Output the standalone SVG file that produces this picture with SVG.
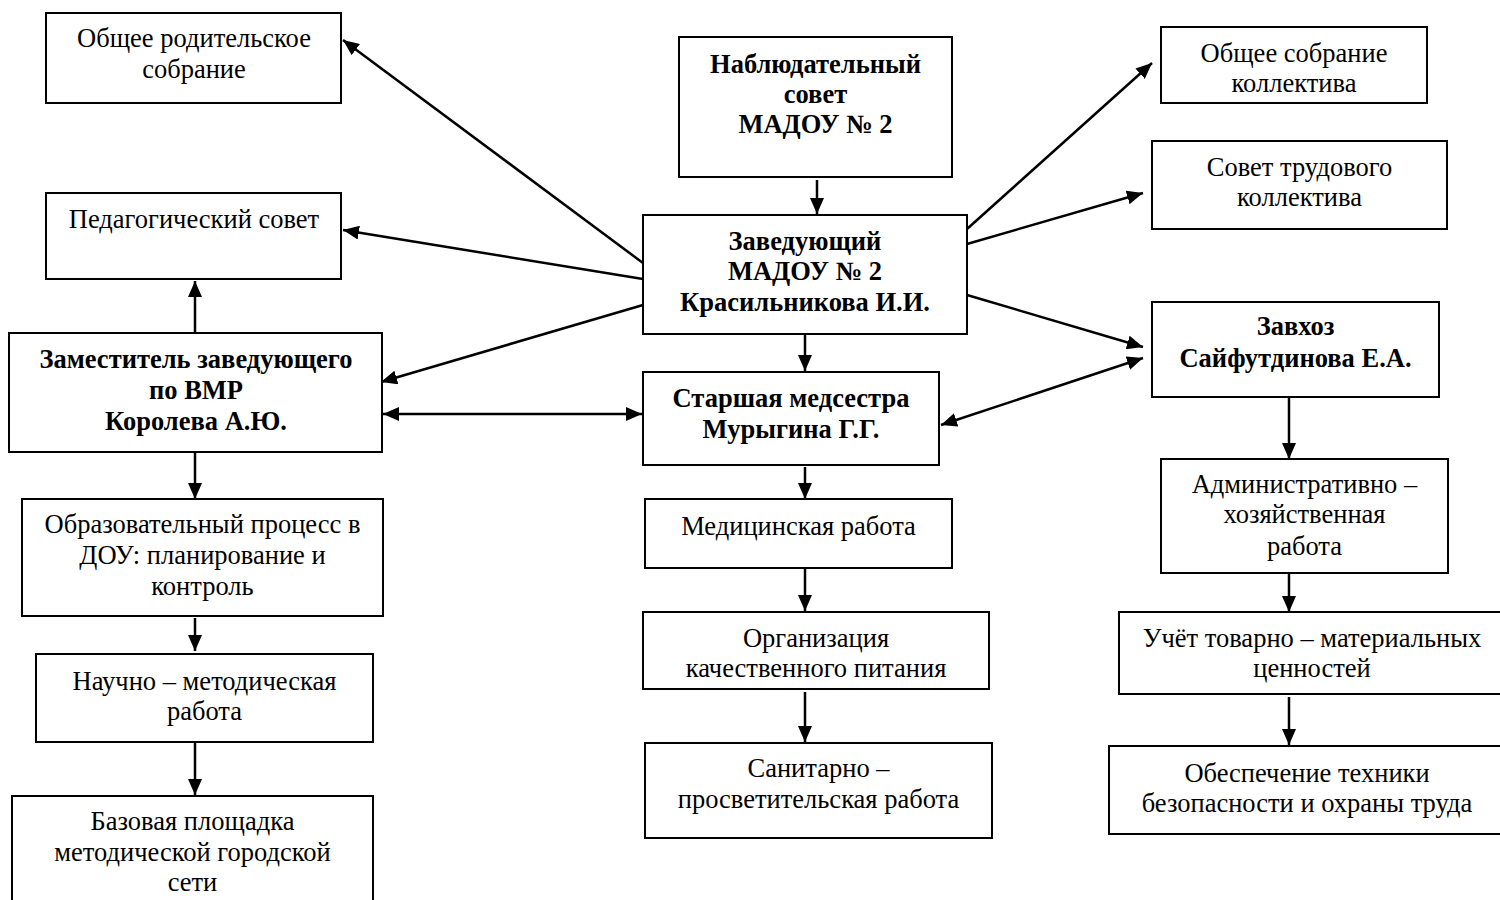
<svg xmlns="http://www.w3.org/2000/svg" width="1500" height="900" viewBox="0 0 1500 900">
<style>
  .box { fill: #ffffff; stroke: #000000; stroke-width: 2; }
  .t { font-family: "Liberation Serif", "Times New Roman", serif; font-size: 26.5px; fill: #000000; text-anchor: middle; }
  .b { font-weight: bold; }
  .c { stroke: #000000; stroke-width: 2.5; fill: none; marker-end: url(#ah); }
  .d { marker-start: url(#ah); }
</style>
<defs>
  <marker id="ah" viewBox="0 0 16 14" refX="16" refY="7" markerWidth="16" markerHeight="14" markerUnits="userSpaceOnUse" orient="auto-start-reverse">
    <path d="M0,0 L16,7 L0,14 z" fill="#000000"/>
  </marker>
</defs>
<rect x="0" y="0" width="1500" height="900" fill="#ffffff"/>

<g id="connectors">
  <line class="c" x1="643" y1="263" x2="343" y2="40"/>
  <line class="c" x1="643" y1="279" x2="343" y2="230"/>
  <line class="c" x1="643" y1="305" x2="381" y2="382"/>
  <line class="c d" x1="383" y1="414" x2="642" y2="414"/>
  <line class="c" x1="195" y1="333" x2="195" y2="281"/>
  <line class="c" x1="817" y1="180" x2="817" y2="214"/>
  <line class="c" x1="805" y1="334" x2="805" y2="371"/>
  <line class="c" x1="967" y1="229" x2="1152" y2="63"/>
  <line class="c" x1="967" y1="244" x2="1143" y2="193"/>
  <line class="c" x1="967" y1="295" x2="1143" y2="347"/>
  <line class="c d" x1="941" y1="425" x2="1143" y2="358"/>
  <line class="c" x1="1289" y1="397" x2="1289" y2="459"/>
  <line class="c" x1="1289" y1="573" x2="1289" y2="612"/>
  <line class="c" x1="1289" y1="697" x2="1289" y2="745"/>
  <line class="c" x1="195" y1="452" x2="195" y2="499"/>
  <line class="c" x1="195" y1="618" x2="195" y2="651"/>
  <line class="c" x1="195" y1="742" x2="195" y2="795"/>
  <line class="c" x1="805" y1="467" x2="805" y2="499"/>
  <line class="c" x1="805" y1="566" x2="805" y2="611"/>
  <line class="c" x1="805" y1="692" x2="805" y2="742"/>
</g>

<g id="n1">
  <rect class="box" x="46" y="13" width="295" height="90"/>
  <text class="t" x="194" y="47">Общее родительское</text>
  <text class="t" x="194" y="78">собрание</text>
</g>
<g id="n2">
  <rect class="box" x="46" y="193" width="295" height="86"/>
  <text class="t" x="194" y="228">Педагогический совет</text>
</g>
<g id="n3">
  <rect class="box" x="9" y="333" width="373" height="119"/>
  <text class="t b" x="196" y="368">Заместитель заведующего</text>
  <text class="t b" x="196" y="399">по ВМР</text>
  <text class="t b" x="196" y="430">Королева А.Ю.</text>
</g>
<g id="n4">
  <rect class="box" x="22" y="499" width="361" height="117"/>
  <text class="t" x="202.5" y="533">Образовательный процесс в</text>
  <text class="t" x="202.5" y="564">ДОУ: планирование и</text>
  <text class="t" x="202.5" y="595">контроль</text>
</g>
<g id="n5">
  <rect class="box" x="36" y="654" width="337" height="88"/>
  <text class="t" x="204.5" y="690">Научно – методическая</text>
  <text class="t" x="204.5" y="720">работа</text>
</g>
<g id="n6">
  <rect class="box" x="12" y="796" width="361" height="110"/>
  <text class="t" x="192.5" y="830">Базовая площадка</text>
  <text class="t" x="192.5" y="861">методической городской</text>
  <text class="t" x="192.5" y="891">сети</text>
</g>
<g id="n7">
  <rect class="box" x="679" y="37" width="273" height="140"/>
  <text class="t b" x="815.5" y="73">Наблюдательный</text>
  <text class="t b" x="815.5" y="103">совет</text>
  <text class="t b" x="815.5" y="133">МАДОУ № 2</text>
</g>
<g id="n8">
  <rect class="box" x="643" y="215" width="324" height="119"/>
  <text class="t b" x="805" y="250">Заведующий</text>
  <text class="t b" x="805" y="280">МАДОУ № 2</text>
  <text class="t b" x="805" y="311">Красильникова И.И.</text>
</g>
<g id="n9">
  <rect class="box" x="643" y="372" width="296" height="93"/>
  <text class="t b" x="791" y="407">Старшая медсестра</text>
  <text class="t b" x="791" y="438">Мурыгина Г.Г.</text>
</g>
<g id="n10">
  <rect class="box" x="645" y="499" width="307" height="69"/>
  <text class="t" x="798.5" y="535">Медицинская работа</text>
</g>
<g id="n11">
  <rect class="box" x="643" y="612" width="346" height="77"/>
  <text class="t" x="816" y="647">Организация</text>
  <text class="t" x="816" y="677">качественного питания</text>
</g>
<g id="n12">
  <rect class="box" x="645" y="743" width="347" height="95"/>
  <text class="t" x="818.5" y="777">Санитарно –</text>
  <text class="t" x="818.5" y="808">просветительская работа</text>
</g>
<g id="n13">
  <rect class="box" x="1161" y="27" width="266" height="76"/>
  <text class="t" x="1294" y="62">Общее собрание</text>
  <text class="t" x="1294" y="92">коллектива</text>
</g>
<g id="n14">
  <rect class="box" x="1152" y="141" width="295" height="88"/>
  <text class="t" x="1299.5" y="176">Совет трудового</text>
  <text class="t" x="1299.5" y="206">коллектива</text>
</g>
<g id="n15">
  <rect class="box" x="1152" y="302" width="287" height="95"/>
  <text class="t b" x="1295.5" y="335">Завхоз</text>
  <text class="t b" x="1295.5" y="367">Сайфутдинова Е.А.</text>
</g>
<g id="n16">
  <rect class="box" x="1161" y="459" width="287" height="114"/>
  <text class="t" x="1304.5" y="493">Административно –</text>
  <text class="t" x="1304.5" y="523">хозяйственная</text>
  <text class="t" x="1304.5" y="555">работа</text>
</g>
<g id="n17">
  <rect class="box" x="1119" y="612" width="386" height="82"/>
  <text class="t" x="1312" y="647">Учёт товарно – материальных</text>
  <text class="t" x="1312" y="677">ценностей</text>
</g>
<g id="n18">
  <rect class="box" x="1109" y="746" width="396" height="88"/>
  <text class="t" x="1307" y="782">Обеспечение техники</text>
  <text class="t" x="1307" y="812">безопасности и охраны труда</text>
</g>
</svg>
